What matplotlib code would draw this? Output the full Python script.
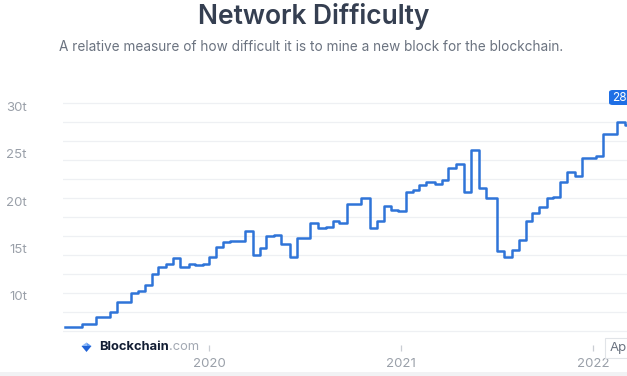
import matplotlib
matplotlib.use('Agg')
import matplotlib.pyplot as plt
import matplotlib.dates as mdates
import matplotlib.transforms as mtransforms
from matplotlib.patches import Polygon, FancyBboxPatch, Rectangle
import numpy as np
import pandas as pd

plt.rcParams['font.family'] = ['Inter', 'DejaVu Sans']

# start date of each difficulty step and its value (trillions)
step_dates = ['2019-04-02', '2019-05-04', '2019-05-31', '2019-06-27', '2019-07-10',
              '2019-08-06', '2019-08-18', '2019-09-01', '2019-09-14', '2019-09-26',
              '2019-10-11', '2019-10-24', '2019-11-07', '2019-11-23', '2019-12-05',
              '2019-12-20', '2020-01-01', '2020-01-14', '2020-01-28', '2020-02-10',
              '2020-03-09', '2020-03-24', '2020-04-07', '2020-04-19', '2020-05-03',
              '2020-05-18', '2020-06-03', '2020-06-16', '2020-07-12', '2020-07-27',
              '2020-08-10', '2020-08-24', '2020-09-05', '2020-09-19', '2020-10-17',
              '2020-11-02', '2020-11-16', '2020-11-29', '2020-12-12', '2020-12-26',
              '2021-01-10', '2021-01-23', '2021-02-04', '2021-02-18', '2021-03-06',
              '2021-03-19', '2021-03-31', '2021-04-15', '2021-04-30', '2021-05-13',
              '2021-05-29', '2021-06-12', '2021-07-03', '2021-07-16', '2021-07-30',
              '2021-08-13', '2021-08-26', '2021-09-07', '2021-09-20', '2021-10-05',
              '2021-10-17', '2021-10-31', '2021-11-13', '2021-11-27', '2021-12-11',
              '2021-12-24', '2022-01-06', '2022-01-20', '2022-02-15', '2022-03-02']
difficulty = [6.39, 6.70, 7.46, 7.94, 9.06,
              9.94, 10.19, 10.79, 11.95, 12.76,
              13.04, 13.71, 12.76, 13.00, 12.90,
              13.00, 13.81, 14.80, 15.39, 15.50,
              16.55, 13.99, 14.76, 16.00, 16.10,
              15.12, 13.75, 15.82, 17.33, 16.87,
              16.97, 17.58, 17.33, 19.34, 20.04,
              16.80, 17.61, 19.16, 18.74, 18.63,
              20.60, 20.85, 21.41, 21.73, 21.48,
              21.90, 23.14, 23.59, 20.60, 25.07,
              21.09, 19.97, 14.41, 13.74, 14.52,
              15.57, 17.58, 18.39, 19.02, 19.97,
              20.11, 21.66, 22.72, 22.36, 24.20,
              24.27, 24.41, 26.73, 28.00, 27.70]
end_date = '2022-03-12'

year_ticks = ['2020-01-01', '2021-01-01', '2022-01-01']
year_labels = ['2020', '2021', '2022']
y_ticks = [10, 15, 20, 25, 30]
y_labels = ['10t', '15t', '20t', '25t', '30t']
grid_levels = np.arange(6, 31, 2)

W, H = 627, 376
fig = plt.figure(figsize=(W / 100, H / 100), dpi=100)

def fx(px):
    return px / W

def fy(py):
    return 1 - py / H

ax = fig.add_axes([fx(63), fy(345), fx(627) - fx(63), fy(95) - fy(345)])

x = pd.to_datetime(step_dates + [end_date])
y = difficulty + [difficulty[-1]]

for g in grid_levels:
    ax.axhline(g, color='#eef0f3', lw=0.9, zorder=0)
ax.plot(x, y, drawstyle='steps-post', color='#2f74d8', lw=1.8,
        solid_joinstyle='round', zorder=3)

# axis limits from pixel positions of the year ticks
d2020 = mdates.date2num(pd.Timestamp('2020-01-01'))
d2022 = mdates.date2num(pd.Timestamp('2022-01-01'))
ppd = (593 - 209) / (d2022 - d2020)
ax.set_xlim(d2020 - (209 - 63) / ppd, d2022 + (627 - 593) / ppd)
ppt = 9.475
ax.set_ylim(6 - (345 - 330.7) / ppt, 30 + (103.3 - 95) / ppt)

for s in ax.spines.values():
    s.set_visible(False)

ax.set_xticks(pd.to_datetime(year_ticks))
ax.set_xticklabels(year_labels)
ax.set_yticks(y_ticks)
ax.set_yticklabels(y_labels)
ax.tick_params(axis='x', length=4.3, width=0.9, color='#c9cdd3', pad=5,
               labelsize=9.5, labelcolor='#9aa0a9')
ax.tick_params(axis='y', length=0, pad=26, labelsize=9.5, labelcolor='#9aa0a9')
off = mtransforms.ScaledTranslation(0, -0.03, fig.dpi_scale_trans)
for lab in ax.get_yticklabels():
    lab.set_transform(lab.get_transform() + off)

# title and subtitle
fig.text(0.5, fy(17), 'Network Difficulty', ha='center', va='center',
         fontsize=19, fontweight='semibold', color='#353f51')
fig.text(fx(311.5), fy(47), 'A relative measure of how difficult it is to mine a new block for the blockchain.',
         ha='center', va='center', fontsize=9.8, color='#6b7380')

# logo
cx, cy = 86.5, 347
logo = [
    ([(cx - 5, cy - 1), (cx, cy - 4.5), (cx, cy - 1)], '#8cb8f7'),
    ([(cx, cy - 4.5), (cx + 5, cy - 1), (cx, cy - 1)], '#5a97f0'),
    ([(cx - 5, cy - 1), (cx + 5, cy - 1), (cx, cy + 5)], '#1f62d6'),
]
for pts, c in logo:
    fig.add_artist(Polygon([(fx(a), fy(b)) for a, b in pts], closed=True,
                           facecolor=c, edgecolor='none', transform=fig.transFigure))
brand = fig.text(fx(99), fy(347), 'Blockchain', ha='left', va='center', fontsize=9.3,
                 fontweight='bold', color='#121d33')
ax.annotate('.com', xy=(1, 0.5), xycoords=brand, xytext=(0.5, 0),
            textcoords='offset points', ha='left', va='center', fontsize=9.3,
            color='#a3a9b3', annotation_clip=False)

# hover tooltips cut off at the right edge
fig.add_artist(FancyBboxPatch((fx(609), fy(105)), fx(40), fy(90) - fy(105),
                              boxstyle='round,pad=0,rounding_size=0.006',
                              facecolor='#1f6fe5', edgecolor='none',
                              transform=fig.transFigure))
fig.text(fx(626.5), fy(98), '28', ha='right', va='center', fontsize=8.5,
         color='white')
fig.add_artist(Rectangle((fx(605), fy(358)), fx(40), fy(338) - fy(358),
                         facecolor='white', edgecolor='#e1e4e8', lw=0.8,
                         transform=fig.transFigure))
fig.text(fx(626.5), fy(348), 'Ap', ha='right', va='center', fontsize=9.5,
         color='#6b7380')

# gray strip at the bottom
fig.add_artist(Rectangle((0, 0), 1, fy(372), facecolor='#f1f2f4',
                         edgecolor='none', transform=fig.transFigure))

fig.savefig('out.png', dpi=100)
